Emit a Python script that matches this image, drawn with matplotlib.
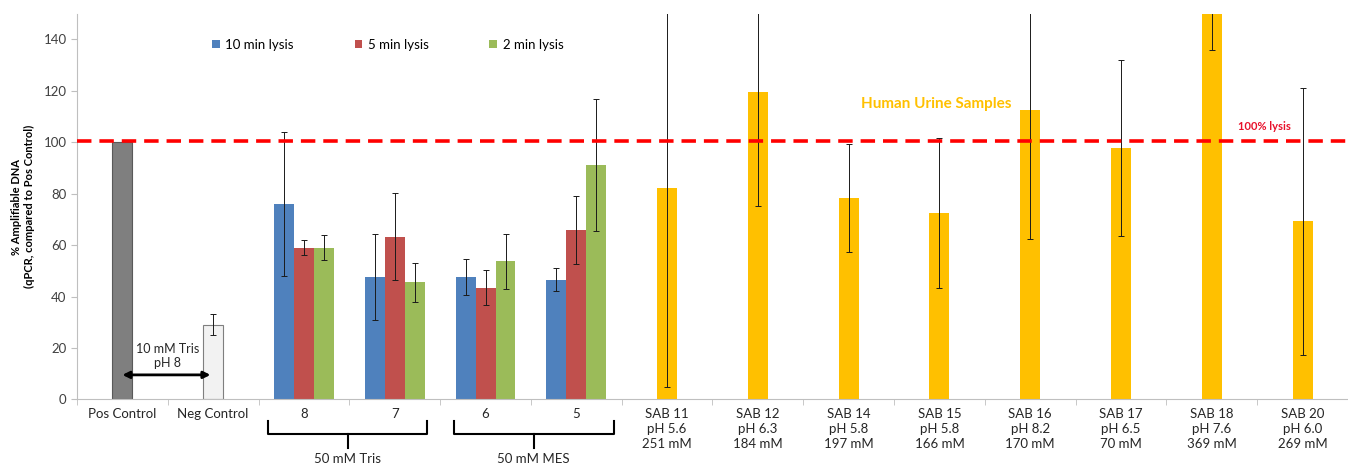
import numpy as np
import matplotlib.pyplot as plt
from matplotlib.transforms import blended_transform_factory

plt.rcParams['font.family'] = ['Lato', 'DejaVu Sans']

# controls
ctrl_labels = ["Pos Control", "Neg Control"]
ctrl_vals = [100, 29]
ctrl_err = [0, 4]

# buffer pH groups, 3 lysis times
ph_labels = ["8", "7", "6", "5"]
lysis_names = ["10 min lysis", "5 min lysis", "2 min lysis"]
lysis_vals = [
    [76, 47.5, 47.6, 46.6],
    [59, 63.3, 43.5, 65.8],
    [59, 45.5, 53.7, 91.1],
]
lysis_err = [
    [28, 16.8, 7.1, 4.6],
    [2.8, 17, 7, 13.3],
    [4.9, 7.6, 10.8, 25.6],
]

# urine samples
sab_labels = ["SAB 11\npH 5.6\n251 mM", "SAB 12\npH 6.3\n184 mM", "SAB 14\npH 5.8\n197 mM",
              "SAB 15\npH 5.8\n166 mM", "SAB 16\npH 8.2\n170 mM", "SAB 17\npH 6.5\n70 mM",
              "SAB 18\npH 7.6\n369 mM", "SAB 20\npH 6.0\n269 mM"]
sab_vals = [82.3, 119.4, 78.4, 72.6, 112.5, 97.7, 153, 69.3]
sab_err = [77.4, 44, 21.1, 29.2, 50.3, 34.3, 17, 52]

lysis_colors = ["#4F81BD", "#C0504D", "#9BBB59"]
gold = "#FFC000"

fig = plt.figure(figsize=(13.48, 4.63), dpi=100)
ax = fig.add_axes([77 / 1348, 63.7 / 463, 1271 / 1348, 385.5 / 463])

w = 0.22
ekw = dict(ecolor="#1a1a1a", elinewidth=0.7, capsize=2, capthick=0.7)

ax.bar(0, ctrl_vals[0], width=w, color="#7F7F7F", edgecolor="#595959", linewidth=0.8)
ax.bar(1, ctrl_vals[1], width=w, yerr=ctrl_err[1], color="#F2F2F2",
       edgecolor="#7F7F7F", linewidth=0.8, error_kw=ekw)

xg = np.arange(2, 2 + len(ph_labels))
for i in range(3):
    ax.bar(xg + (i - 1) * w, lysis_vals[i], width=w, yerr=lysis_err[i],
           color=lysis_colors[i], label=lysis_names[i], error_kw=ekw)

xs = np.arange(6, 6 + len(sab_labels))
ax.bar(xs, sab_vals, width=w, yerr=sab_err, color=gold, error_kw=ekw)

ax.axhline(100.5, color="#FF0000", lw=2.6, ls=(0, (4, 2.2)), zorder=5)

ax.set_ylim(0, 150)
ax.set_xlim(-0.5, 13.39)
ax.set_yticks(range(0, 141, 20))
ax.set_xticks(range(14))
ax.set_xticklabels(ctrl_labels + ph_labels + sab_labels, fontsize=9.5,
                   color="#262626", linespacing=1.3, va="top")
ax.set_xticks(np.arange(-0.5, 14, 1), minor=True)
ax.tick_params(axis="x", which="major", length=0, pad=6)
ax.tick_params(axis="x", which="minor", length=4, color="#BFBFBF")
ax.tick_params(axis="y", length=4, color="#BFBFBF", labelsize=9.5, labelcolor="#404040")
for s in ["top", "right"]:
    ax.spines[s].set_visible(False)
for s in ["left", "bottom"]:
    ax.spines[s].set_color("#BFBFBF")

ax.set_ylabel("% Amplifiable DNA\n(qPCR, compared to Pos Control)", fontsize=8,
              fontweight="bold", labelpad=6)

ax.legend(loc="upper left", bbox_to_anchor=(0.097, 0.966), ncol=3, frameon=False,
          fontsize=9.5, handlelength=0.6, handleheight=0.6, handletextpad=0.4,
          columnspacing=4.6)

ax.annotate("", xy=(0.0, 9.5), xytext=(0.97, 9.5),
            arrowprops=dict(arrowstyle="<|-|>", lw=2, color="black",
                            shrinkA=0, shrinkB=0, mutation_scale=10))
ax.text(0.5, 17, "10 mM Tris\npH 8", ha="center", va="center", fontsize=9,
        linespacing=1.2, color="#262626")

ax.text(8.96, 115, "Human Urine Samples", ha="center", va="center",
        fontsize=11, fontweight="bold", color=gold)
ax.text(12.58, 106, "100% lysis", ha="center", va="center", fontsize=8,
        fontweight="bold", color="#E8102A")

# brackets under the buffer groups
tr = blended_transform_factory(ax.transData, ax.transAxes)
for x0, x1, name in [(1.6, 3.36, "50 mM Tris"), (3.65, 5.41, "50 mM MES")]:
    xc = (x0 + x1) / 2
    ax.plot([x0, x0, x1, x1], [-0.056, -0.09, -0.09, -0.056], color="black",
            lw=1.5, transform=tr, clip_on=False)
    ax.plot([xc, xc], [-0.09, -0.126], color="black", lw=1.5, transform=tr,
            clip_on=False)
    ax.text(xc, -0.14, name, ha="center", va="top", fontsize=9.5,
            color="#262626", transform=tr, clip_on=False)

fig.savefig("out.png", dpi=100)
